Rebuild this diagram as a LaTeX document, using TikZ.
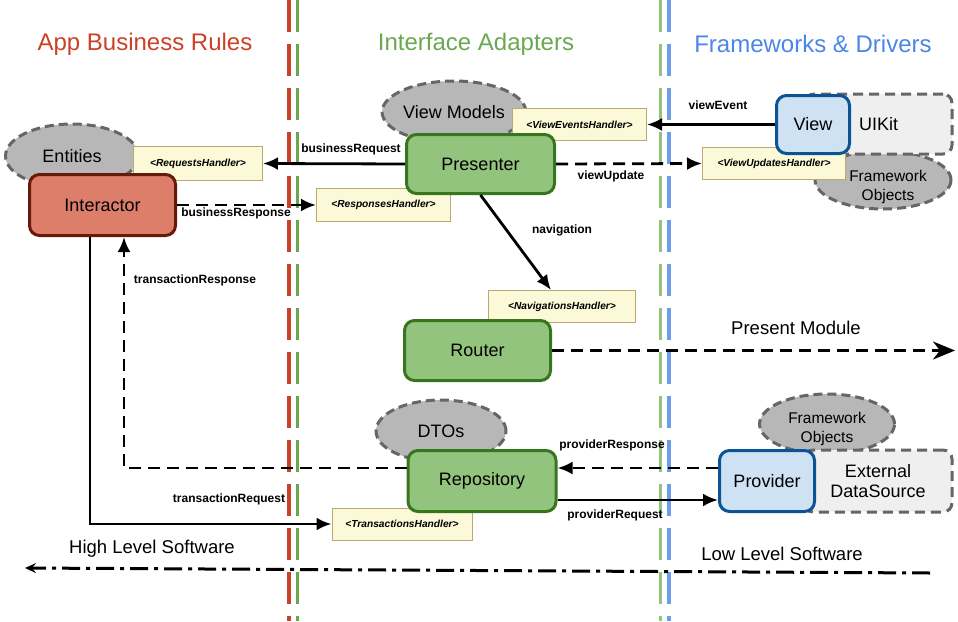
\documentclass[tikz,border=0pt]{standalone}
\usepackage{fontspec}
\setmainfont{Liberation Sans}
\usetikzlibrary{shapes.geometric,arrows.meta}

\begin{document}
\begin{tikzpicture}[x=1pt,y=-1pt,
    layertitle/.style={font=\fontsize{24}{27}\selectfont},
    objcloud/.style={ellipse,draw=dashgray,fill=objgray,line width=3pt,dash pattern=on 9pt off 5pt,inner sep=0pt,align=center,font=\fontsize{18}{21}\selectfont},
    fwobjtext/.style={align=center,font=\fontsize{15.5}{19}\selectfont},
    fwframe/.style={rectangle,rounded corners=9pt,draw=dashgray,fill=framegray,line width=3pt,dash pattern=on 10pt off 6pt,inner sep=0pt,align=center,font=\fontsize{18}{21}\selectfont},
    unitbox/.style={rectangle,rounded corners=10pt,line width=3pt,inner sep=0pt,font=\fontsize{18}{21}\selectfont},
    handlerbox/.style={rectangle,draw=handlerline,fill=handlerfill,line width=1pt,inner sep=0pt,font=\bfseries\itshape\fontsize{10.2}{12}\selectfont},
    callline/.style={line width=2.8pt,-{Latex[length=15pt,width=13pt]}},
    replyline/.style={callline,dash pattern=on 12pt off 7pt},
    msglabel/.style={font=\bfseries\fontsize{12}{14}\selectfont},
    swlabel/.style={font=\fontsize{18.5}{21}\selectfont}]
    \definecolor{titlered}{HTML}{CC4125}
    \definecolor{titlegreen}{HTML}{6AA84F}
    \definecolor{titleblue}{HTML}{4A86E8}
    \definecolor{linelgreen}{HTML}{93C47D}
    \definecolor{lineblue}{HTML}{6D9EEB}
    \definecolor{interfill}{HTML}{DD7E6B}
    \definecolor{interline}{HTML}{661A0A}
    \definecolor{adaptfill}{HTML}{93C47D}
    \definecolor{adaptline}{HTML}{38761D}
    \definecolor{drivefill}{HTML}{CFE2F3}
    \definecolor{driveline}{HTML}{0B5394}
    \definecolor{objgray}{HTML}{B7B7B7}
    \definecolor{dashgray}{HTML}{666666}
    \definecolor{framegray}{HTML}{EFEFEF}
    \definecolor{handlerfill}{HTML}{FBF9D8}
    \definecolor{handlerline}{HTML}{BBA874}
    \useasboundingbox (0,0) rectangle (958,621);
    \foreach \x/\c/\w in {
      288.5/titlered/4,
      297.5/titlegreen/3.6,
      660.3/linelgreen/3.6,
      668.7/lineblue/3.6} {
      \draw[\c,line width=\w pt,dash pattern=on 32pt off 12pt] (\x,0) -- (\x,621);
    }
    \node[layertitle,text=titlered] (rulestitle) at (145,44) {App Business Rules};
    \node[layertitle,text=titlegreen] (adapttitle) at (476,44) {Interface Adapters};
    \node[layertitle,text=titleblue] (drivetitle) at (813,44) {Frameworks \& Drivers};
    \node[objcloud,minimum width=133pt,minimum height=64pt] (entities) at (72,156) {Entities};
    \node[objcloud,minimum width=134pt,minimum height=62pt] (viewmodels) at (454,112) {View Models};
    \node[objcloud,minimum width=130pt,minimum height=62pt] (dtos) at (441,431) {DTOs};
    \node[objcloud,minimum width=136pt,minimum height=58pt,
      label={[fwobjtext,xshift=5pt,yshift=-7pt]center:Framework\\Objects}] (uiobjects) at (883,180) {};
    \node[objcloud,minimum width=135pt,minimum height=60pt,
      label={[fwobjtext,yshift=-5pt]center:Framework\\Objects}] (dataobjects) at (827,424) {};
    \node[fwframe,minimum width=147pt,minimum height=60pt] (uikit) at (878.5,124) {UIKit};
    \node[fwframe,minimum width=148pt,minimum height=62pt] (datasource) at (878,481) {External\\[-1pt]DataSource};
    \node[handlerbox,minimum width=129pt,minimum height=34pt] (reqh) at (198,163.5) {<RequestsHandler>};
    \node[handlerbox,minimum width=134pt,minimum height=33pt] (resh) at (383.5,205) {<ResponsesHandler>};
    \node[handlerbox,minimum width=134pt,minimum height=32pt] (vevh) at (579.5,124.5) {<ViewEventsHandler>};
    \node[handlerbox,minimum width=143pt,minimum height=32pt] (vuph) at (774,163.5) {<ViewUpdatesHandler>};
    \node[handlerbox,minimum width=147pt,minimum height=32pt] (navh) at (562,306.5) {<NavigationsHandler>};
    \node[handlerbox,minimum width=140pt,minimum height=32pt] (trh) at (402,524) {<TransactionsHandler>};
    \node[unitbox,draw=interline,fill=interfill,minimum width=146pt,minimum height=61pt] (interactor) at (102.5,205) {Interactor};
    \node[unitbox,draw=adaptline,fill=adaptfill,minimum width=148pt,minimum height=59pt] (presenter) at (480.5,164) {Presenter};
    \node[unitbox,draw=adaptline,fill=adaptfill,minimum width=146pt,minimum height=60pt] (router) at (477.5,350.5) {Router};
    \node[unitbox,draw=adaptline,fill=adaptfill,minimum width=148pt,minimum height=61pt] (repository) at (482,481) {Repository};
    \node[unitbox,draw=driveline,fill=drivefill,minimum width=73pt,minimum height=58pt] (view) at (813,124.5) {View};
    \node[unitbox,draw=driveline,fill=drivefill,minimum width=95pt,minimum height=61pt] (provider) at (767,481) {Provider};
    \draw[callline] (presenter.west) -- (reqh.east);
    \draw[replyline] (interactor.east) -- (resh.west);
    \draw[callline] (view.west) -- (vevh.east);
    \draw[replyline] (presenter.east) -- (vuph.west);
    \draw[callline] (presenter.south) -- ([xshift=-11pt]navh.north);
    \draw[callline] ([xshift=-12.5pt]interactor.south) |- (trh.west);
    \draw[replyline] ([yshift=13pt]repository.west) -| ([xshift=21.5pt]interactor.south);
    \draw[replyline] ([yshift=13pt]provider.west) -- ([yshift=13pt]repository.east);
    \draw[callline] ([yshift=-19pt]repository.east) -- ([yshift=-19pt]provider.west);
    \coordinate (moduleout) at (955,350.5);
    \draw[replyline,-{Stealth[length=22pt,width=18pt,inset=7pt]}] (router.east) -- (moduleout);
    \coordinate (lowend) at (930,573);
    \coordinate (highend) at (25,568);
    \draw[line width=3pt,dash pattern=on 18pt off 6pt on 4pt off 6pt,-{Stealth[length=11pt,width=10pt,inset=4pt]}] (lowend) -- (highend);
    \node[msglabel] (businessreq) at (351,149) {businessRequest};
    \node[msglabel] (businessres) at (236,213) {businessResponse};
    \node[msglabel] (viewupdate) at (611,176) {viewUpdate};
    \node[msglabel] (viewevent) at (718,105) {viewEvent};
    \node[msglabel] (navigation) at (562,230) {navigation};
    \node[msglabel] (transres) at (195,280) {transactionResponse};
    \node[msglabel] (transreq) at (229,499) {transactionRequest};
    \node[msglabel] (provres) at (612,445) {providerResponse};
    \node[msglabel] (provreq) at (615,515) {providerRequest};
    \node[swlabel] (presentmod) at (796,328) {Present Module};
    \node[swlabel] (highsw) at (152,549) {High Level Software};
    \node[swlabel] (lowsw) at (782,554) {Low Level Software};
  \end{tikzpicture}
\end{document}
